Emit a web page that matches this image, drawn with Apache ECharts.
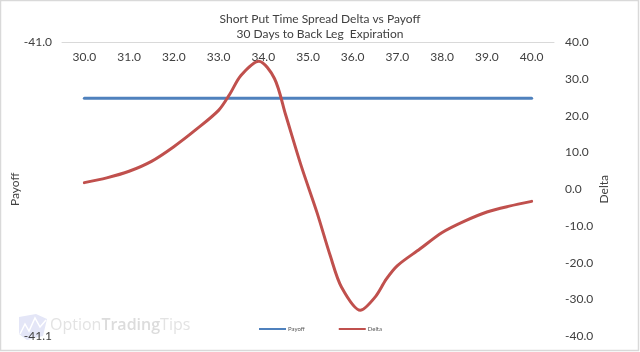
<!DOCTYPE html>
<html>
<head>
<meta charset="utf-8">
<style>html,body{margin:0;padding:0;background:#fff}#c{width:640px;height:352px}</style>
<script src="https://cdn.jsdelivr.net/npm/echarts@6/dist/echarts.min.js"></script>
</head>
<body>
<div id="c"></div>
<script>
const titleLines = ['Short Put Time Spread Delta vs Payoff', '30 Days to Back Leg  Expiration'];
const xTicks = [30, 31, 32, 33, 34, 35, 36, 37, 38, 39, 40];
const payoffX = [30, 40];
const payoffY = [-41.019, -41.019];
const deltaX = [30, 30.5, 31, 31.5, 32, 32.5, 33, 33.25, 33.5, 33.9, 34.25, 34.5, 34.85, 35.2, 35.5, 35.75, 36.17, 36.5, 36.75, 37, 37.5, 38, 38.5, 39, 39.5, 40];
const deltaY = [1.8, 3.1, 4.9, 7.6, 11.6, 16.3, 21.5, 25.9, 31, 34.9, 30.2, 20.3, 6.3, -6.3, -18.2, -26.7, -33, -29.4, -24.5, -20.8, -16.3, -11.8, -8.7, -6.2, -4.6, -3.3];

const FONT = 'Lato';
const TXT = '#404040';
const chart = echarts.init(document.getElementById('c'), null, {renderer: 'canvas'});
chart.setOption({
  animation: false,
  backgroundColor: '#fff',
  textStyle: {fontFamily: FONT},
  title: {
    text: titleLines.join('\n'),
    left: 320, top: 11, padding: 0, textAlign: 'center',
    textStyle: {fontFamily: FONT, fontSize: 12, fontWeight: 'normal', color: TXT, lineHeight: 15.5}
  },
  legend: {
    top: 326, left: 259, padding: 0, itemWidth: 27, itemHeight: 2, itemGap: 34,
    icon: 'rect',
    textStyle: {fontFamily: FONT, fontSize: 6, color: '#595959', padding: [0, 0, 0, -3]},
    data: ['Payoff', 'Delta']
  },
  grid: {left: 62, right: 86, top: 42.5, bottom: 16, outerBoundsMode: 'none'},
  xAxis: {
    type: 'value', position: 'top', min: 29.5, max: 40.5,
    axisLine: {show: true, onZero: false, lineStyle: {color: '#d9d9d9', width: 1}},
    axisTick: {show: false},
    splitLine: {show: false},
    axisLabel: {
      inside: true, margin: 9, fontFamily: FONT, fontSize: 12, color: TXT,
      customValues: xTicks, formatter: v => v.toFixed(1)
    }
  },
  yAxis: [
    {
      type: 'value', min: -41.1, max: -41, interval: 0.1,
      name: 'Payoff', nameLocation: 'middle', nameGap: 41, nameRotate: 90, nameMoveOverlap: false,
      nameTextStyle: {fontFamily: FONT, fontSize: 12, color: TXT},
      axisLine: {show: false}, axisTick: {show: false}, splitLine: {show: false},
      axisLabel: {margin: 10, fontFamily: FONT, fontSize: 12, color: TXT, formatter: v => v.toFixed(1)}
    },
    {
      type: 'value', min: -40, max: 40, interval: 10, position: 'right',
      name: 'Delta', nameLocation: 'middle', nameGap: 44, nameRotate: 90, nameMoveOverlap: false,
      nameTextStyle: {fontFamily: FONT, fontSize: 12, color: TXT},
      axisLine: {show: false}, axisTick: {show: false}, splitLine: {show: false},
      axisLabel: {margin: 11, fontFamily: FONT, fontSize: 12, color: TXT, formatter: v => v.toFixed(1)}
    }
  ],
  graphic: [
    {type: 'rect', silent: true, z: -1, shape: {x: 0.5, y: 0.5, width: 638, height: 350}, style: {fill: 'none', stroke: '#d9d9d9', lineWidth: 1.5}},
    {type: 'polygon', silent: true, z: -1, shape: {points: [[19, 317], [36, 314], [47, 319], [43, 336], [27, 340], [19, 334]]}, style: {fill: '#e4e6f7'}},
    {type: 'polyline', silent: true, z: -1, shape: {points: [[20, 334], [25, 324], [29, 331], [35, 318], [40, 327], [46, 320]]}, style: {stroke: '#fff', fill: 'none', lineWidth: 1.5}},
    {type: 'text', silent: true, z: -1, x: 50, y: 317, style: {
      text: 'Option{b|Trading}Tips', fontFamily: 'Open Sans', fontSize: 16, fill: '#e3e3e3',
      rich: {b: {fontFamily: 'Open Sans', fontSize: 16, fontWeight: 600, fill: '#dcdcdc', color: '#dcdcdc'}}
    }}
  ],
  series: [
    {
      name: 'Payoff', type: 'line', yAxisIndex: 0, symbol: 'none',
      data: payoffX.map((x, i) => [x, payoffY[i]]),
      lineStyle: {color: '#4f81bd', width: 3, cap: 'round'}, itemStyle: {color: '#4f81bd'}
    },
    {
      name: 'Delta', type: 'line', yAxisIndex: 1, symbol: 'none', smooth: 0.3,
      data: deltaX.map((x, i) => [x, deltaY[i]]),
      lineStyle: {color: '#c0504d', width: 3, cap: 'round'}, itemStyle: {color: '#c0504d'}
    }
  ]
});
</script>
</body>
</html>
